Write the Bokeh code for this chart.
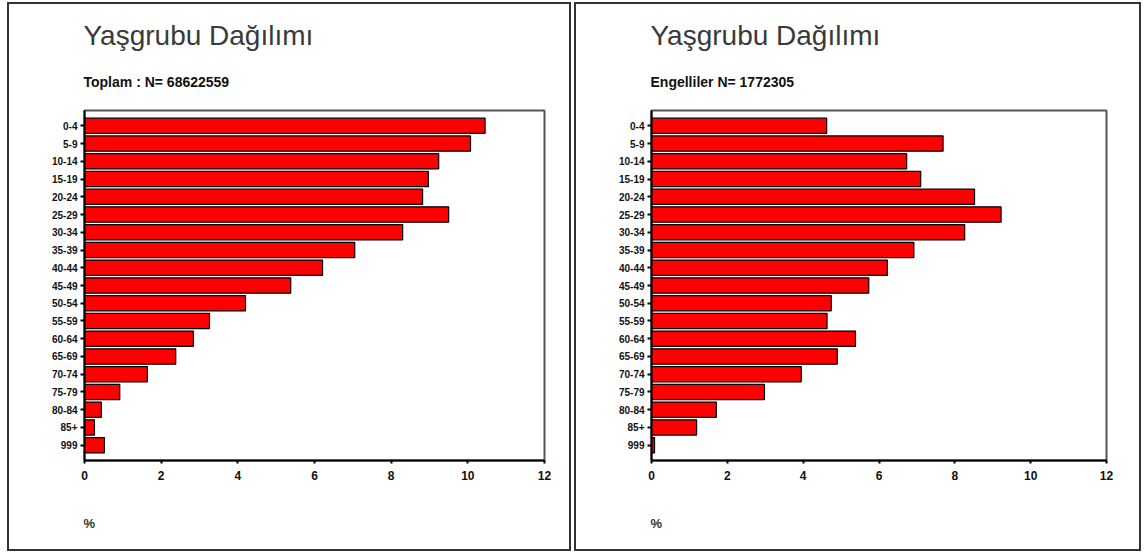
from bokeh.plotting import figure
from bokeh.models import Range1d, Title, FixedTicker
from bokeh.layouts import row
from bokeh.embed import file_html
from bokeh.resources import INLINE

age_groups = ["0-4", "5-9", "10-14", "15-19", "20-24", "25-29", "30-34", "35-39",
              "40-44", "45-49", "50-54", "55-59", "60-64", "65-69", "70-74", "75-79",
              "80-84", "85+", "999"]
total_pct = [10.45, 10.07, 9.24, 8.97, 8.82, 9.50, 8.30, 7.05, 6.21, 5.38, 4.20,
             3.26, 2.84, 2.38, 1.64, 0.92, 0.44, 0.26, 0.52]
disabled_pct = [4.62, 7.69, 6.73, 7.10, 8.52, 9.22, 8.26, 6.92, 6.22, 5.73, 4.74,
                4.63, 5.38, 4.90, 3.95, 2.98, 1.71, 1.19, 0.08]
x_ticks = [0, 2, 4, 6, 8, 10, 12]
title_text = "Yaşgrubu Dağılımı"
subtitle_total = "Toplam : N= 68622559"
subtitle_disabled = "Engelliler N= 1772305"
axis_unit = "%"

H = 549
FRAME_TOP = 106
FRAME_H = 350
FONT = "Liberation Sans"


def make_panel(values, subtitle, width, frame_left, frame_width, margin_left):
    n = len(age_groups)
    positions = list(range(n))
    p = figure(width=width, height=H,
               x_range=Range1d(0, 12),
               y_range=Range1d(n - 1 + 0.86, -0.86),
               output_backend="svg", toolbar_location=None,
               min_border_left=frame_left,
               min_border_right=width - frame_left - frame_width,
               min_border_top=FRAME_TOP,
               min_border_bottom=H - FRAME_TOP - FRAME_H,
               styles={"border": "2px solid #333333",
                       "margin-left": f"{margin_left}px",
                       "margin-top": "2px"})
    p.xgrid.visible = False
    p.ygrid.visible = False
    p.background_fill_color = "white"
    p.border_fill_color = "white"
    p.outline_line_color = "#555555"
    p.outline_line_width = 2

    p.hbar(y=positions, left=0, right=values, height=0.86,
           fill_color="#ff0000", line_color="black", line_width=1.2)

    ya = p.yaxis[0]
    ya.ticker = FixedTicker(ticks=positions)
    ya.major_label_overrides = {i: lab for i, lab in zip(positions, age_groups)}
    ya.minor_tick_line_color = None
    ya.axis_line_color = "black"
    ya.axis_line_width = 2
    ya.major_tick_out = 4
    ya.major_tick_in = 0
    ya.major_tick_line_width = 2
    ya.major_label_standoff = 3
    ya.major_label_text_font = FONT
    ya.major_label_text_font_style = "bold"
    ya.major_label_text_font_size = "10px"
    ya.major_label_text_color = "#111111"

    xa = p.xaxis[0]
    xa.ticker = FixedTicker(ticks=x_ticks)
    xa.axis_line_color = "black"
    xa.axis_line_width = 2
    xa.major_tick_out = 3
    xa.major_tick_in = 0
    xa.major_tick_line_width = 2
    xa.minor_tick_line_color = None
    xa.major_label_standoff = 7
    xa.major_label_text_font = FONT
    xa.major_label_text_font_style = "bold"
    xa.major_label_text_font_size = "12px"
    xa.major_label_text_color = "#111111"

    # main title (outermost), subtitle added afterwards sits nearer the frame
    p.title.text = title_text
    p.title.align = "left"
    p.title.offset = -1
    p.title.standoff = 0
    p.title.text_font = FONT
    p.title.text_font_style = "normal"
    p.title.text_font_size = "28px"
    p.title.text_color = "#3a3a3a"

    p.add_layout(Title(text=subtitle, align="left", offset=-1, standoff=42,
                       text_font=FONT, text_font_style="bold",
                       text_font_size="14px", text_color="#111111"), "above")

    # spacer below the x axis, then the unit label
    p.add_layout(Title(text=" ", align="left", standoff=14,
                       text_font=FONT, text_font_size="13px"), "below")
    p.add_layout(Title(text=axis_unit, align="left", offset=-1, standoff=0,
                       text_font=FONT, text_font_style="bold",
                       text_font_size="13px", text_color="#333333"), "below")
    return p


p1 = make_panel(total_pct, subtitle_total, 564, 75, 460, 7)
p2 = make_panel(disabled_pct, subtitle_disabled, 567, 75, 455, 3)

layout = row(p1, p2)
open("out.html", "w").write(file_html(layout, INLINE))
